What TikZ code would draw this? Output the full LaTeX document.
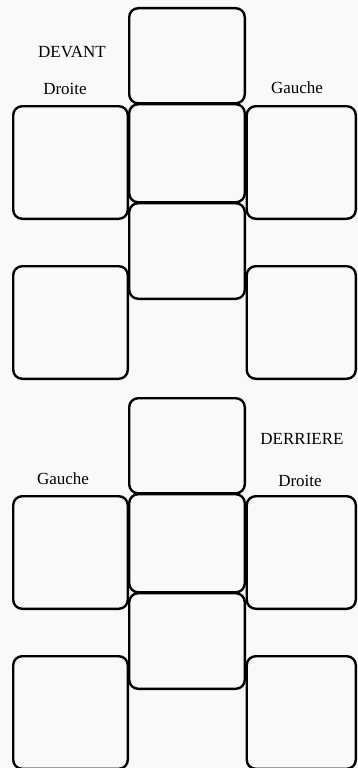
\documentclass[tikz,border=0pt]{standalone}
\usepackage{fontspec}
\setmainfont{Liberation Serif}

\begin{document}
\begin{tikzpicture}[x=1pt, y=-1pt,
  case/.style={draw, line width=2.4pt, rounded corners=9pt, inner sep=0pt},
  libelle/.style={font=\fontsize{17}{19}\selectfont, inner sep=0pt}]
  \fill[gray!5] (0,0) rectangle (358,768);
  \useasboundingbox (0,0) rectangle (358,768);

  % deux blocs de cases, decales de 390
  \foreach \dy/\k in {0/a, 390/b} {
    \node[case, minimum width=115.6pt, minimum height=95.1pt] (haut\k) at (187, 55.75+\dy) {};
    \node[case, minimum width=115.6pt, minimum height=98.1pt] (milieu\k) at (187, 153.25+\dy) {};
    \node[case, minimum width=115.6pt, minimum height=95.6pt] (bas\k) at (187, 251+\dy) {};
    \node[case, minimum width=114.6pt, minimum height=112.6pt] (gaucheun\k) at (70.5, 162.5+\dy) {};
    \node[case, minimum width=114.6pt, minimum height=112.6pt] (gauchedeux\k) at (70.5, 322.5+\dy) {};
    \node[case, minimum width=109.1pt, minimum height=112.6pt] (droiteun\k) at (301.25, 162.5+\dy) {};
    \node[case, minimum width=109.1pt, minimum height=112.6pt] (droitedeux\k) at (301.25, 322.5+\dy) {};
  }

  \node[libelle] (devant) at (72, 52) {DEVANT};
  \node[libelle] (droitea) at (65, 89) {Droite};
  \node[libelle] (gauchea) at (297, 88) {Gauche};

  \node[libelle] (derriere) at (302, 439) {DERRIERE};
  \node[libelle] (gaucheb) at (63, 479) {Gauche};
  \node[libelle] (droiteb) at (300, 481) {Droite};
\end{tikzpicture}
\end{document}
